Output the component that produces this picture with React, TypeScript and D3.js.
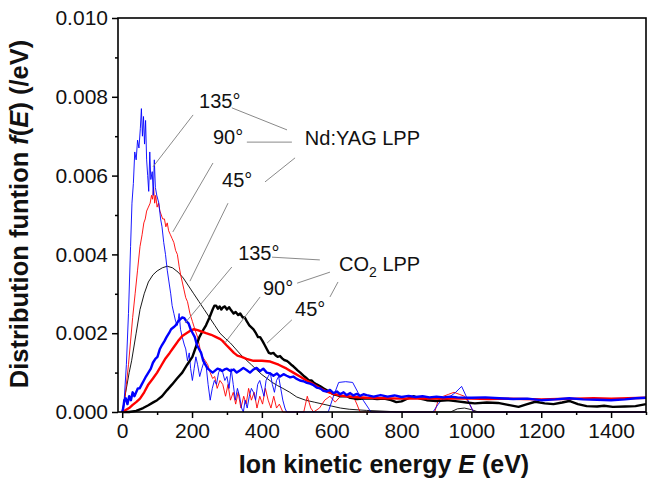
import React, { useEffect, useRef } from 'react';
import * as d3 from 'd3';

// axis ticks
const xTicks = [0, 200, 400, 600, 800, 1000, 1200, 1400];
const xMinor = [100, 300, 500, 700, 900, 1100, 1300, 1500];
const yTicks = [0, 0.002, 0.004, 0.006, 0.008, 0.01];
const yMinor = [0.001, 0.003, 0.005, 0.007, 0.009];

// Nd:YAG LPP (thin lines), [E (eV), f(E)]
const nd135 = [[0,0],[5,0.0002],[12,0.0012],[18,0.0025],[24,0.0042],[28,0.0053],[32,0.0058],[36,0.0066],[40,0.0064],[44,0.0069],[48,0.0067],[52,0.0072],[55,0.0077],[58,0.007],[61,0.0075],[64,0.0068],[67,0.0074],[70,0.0064],[73,0.006],[76,0.0056],[79,0.0066],[82,0.0059],[86,0.0061],[89,0.0055],[92,0.0064],[95,0.0057],[99,0.0055],[105,0.0053],[110,0.0049],[114,0.0047],[119,0.0043],[124,0.004],[129,0.0036],[134,0.0033],[139,0.003],[143,0.0027],[148,0.0025],[153,0.0023],[158,0.0022],[163,0.0025],[167,0.0021],[172,0.0019],[178,0.0017],[182,0.0016],[187,0.0013],[192,0.0015],[196,0.0011],[201,0.0008],[206,0.0011],[211,0.0014],[216,0.0012],[222,0.0009],[228,0.0011],[235,0.0013],[240,0.0012],[246,0.0007],[252,0.0003],[258,0.0006],[264,0.0008],[270,0.0007],[276,0.001],[282,0.0011],[288,0.001],[294,0.0008],[300,0.0009],[306,0.0006],[312,0.0011],[318,0.0007],[324,0.0003],[330,0.0006],[336,0.0004],[342,0.0001],[347,0],[352,0.0003],[358,0.0001],[364,0.0004],[370,0.0006],[376,0.0005],[382,0.0003],[388,0.0007],[394,0.0008],[400,0.0006],[406,0.0004],[412,0.0008],[418,0.0009],[424,0.001],[430,0.0007],[436,0.0005],[442,0.0008],[448,0.0009],[454,0.0006],[460,0.0003],[466,0.0001],[471,0],[590,0],[605,0.0004],[620,0.00075],[640,0.00077],[660,0.00075],[675,0.0005],[690,0.0003],[705,0.0001],[712,0],[890,0],[905,0.0002],[920,0.00035],[940,0.0004],[955,0.0005],[972,0.00065],[985,0.0004],[995,0.0002],[1006,0],[1500,0]];
const nd90 = [[0,0],[6,0.0002],[12,0.0007],[18,0.0012],[24,0.0018],[30,0.0024],[37,0.003],[44,0.0036],[51,0.0042],[57,0.0045],[62,0.0048],[66,0.0049],[70,0.0051],[75,0.0052],[80,0.0053],[84,0.0055],[87,0.0054],[90,0.0057],[93,0.0053],[96,0.0055],[100,0.0052],[104,0.0053],[108,0.0051],[112,0.005],[116,0.0049],[121,0.0049],[125,0.0047],[129,0.0048],[133,0.0046],[138,0.0045],[143,0.0044],[148,0.0043],[153,0.0041],[158,0.004],[163,0.0037],[167,0.0035],[172,0.0033],[177,0.0031],[182,0.0029],[187,0.0028],[194,0.0025],[201,0.0023],[208,0.0021],[216,0.0019],[223,0.0016],[230,0.0014],[238,0.0013],[245,0.0012],[252,0.001],[259,0.00085],[265,0.0009],[272,0.0006],[280,0.0008],[288,0.0007],[296,0.0004],[303,0.0007],[310,0.0003],[318,0.0005],[325,0.0002],[332,0.0005],[340,0.0001],[348,0.0004],[355,0.0002],[362,0.0006],[370,0.0003],[378,0.0005],[386,0.0001],[394,0.0004],[402,0.0002],[410,0.0006],[418,0.0003],[426,0.0001],[434,0.0004],[442,0.0001],[450,0.0002],[460,0],[520,0],[530,0.0004],[540,0.0001],[548,0],[565,0.0001],[580,0.0003],[595,0.0004],[610,0.00025],[625,0.0004],[645,0.0004],[662,0.0004],[672,0.0002],[681,0],[895,0],[905,0.0003],[920,0.0004],[935,0.00045],[950,0.0005],[965,0.00045],[980,0.0004],[995,0.0002],[1006,0],[1500,0]];
const nd45 = [[0,0],[10,0.0005],[20,0.001],[27,0.0013],[40,0.002],[51,0.0026],[63,0.003],[75,0.0033],[88,0.00348],[100,0.00358],[115,0.00366],[129,0.0037],[144,0.00366],[160,0.00355],[175,0.0034],[190,0.0032],[205,0.003],[220,0.0028],[235,0.0026],[250,0.0024],[265,0.0022],[280,0.002],[295,0.00187],[310,0.00175],[325,0.0016],[340,0.00145],[355,0.00132],[370,0.0012],[385,0.00107],[400,0.00095],[415,0.00085],[430,0.00075],[445,0.00067],[460,0.0006],[480,0.0005],[500,0.00038],[525,0.0003],[550,0.00025],[575,0.0002],[600,0.00015],[625,0.0001],[650,0.00007],[700,0.00004],[750,0.00002],[800,0],[940,0],[960,0.00008],[980,0.0001],[1000,0.00006],[1020,0],[1500,0]];

// CO2 LPP (thick lines)
const co135 = [[0,0],[3,0.0001],[6,0.0003],[10,0.00035],[15,0.0002],[20,0.0004],[25,0.0003],[30,0.0005],[35,0.0004],[40,0.0005],[45,0.0006],[50,0.0006],[56,0.0007],[62,0.0008],[68,0.0009],[75,0.001],[82,0.0011],[88,0.00125],[95,0.00135],[101,0.0014],[108,0.0016],[114,0.0017],[121,0.0018],[127,0.0019],[134,0.002],[140,0.0021],[147,0.00215],[153,0.0022],[160,0.0023],[166,0.00235],[172,0.0024],[178,0.00238],[184,0.0023],[190,0.00225],[196,0.0021],[202,0.002],[208,0.0019],[214,0.0017],[220,0.0016],[226,0.0015],[232,0.0013],[238,0.0012],[245,0.0011],[252,0.00105],[259,0.001],[266,0.00105],[273,0.0011],[279,0.00108],[286,0.00104],[293,0.00108],[300,0.0011],[310,0.00104],[319,0.00108],[328,0.001],[338,0.00106],[347,0.00112],[357,0.00106],[366,0.001],[376,0.00108],[385,0.00112],[395,0.00104],[404,0.0011],[414,0.001],[424,0.00098],[433,0.00092],[443,0.00098],[452,0.0009],[462,0.00096],[471,0.00092],[481,0.00088],[490,0.0009],[500,0.00084],[509,0.0008],[519,0.00078],[529,0.00074],[538,0.00072],[548,0.00068],[557,0.00062],[567,0.0006],[576,0.00054],[586,0.00052],[595,0.00056],[605,0.00048],[615,0.00052],[624,0.00045],[634,0.0005],[643,0.00043],[653,0.00048],[662,0.00042],[672,0.00046],[681,0.00041],[691,0.00045],[700,0.00043],[720,0.00039],[740,0.00043],[760,0.00039],[780,0.00042],[800,0.00038],[820,0.00041],[840,0.00038],[860,0.0004],[880,0.00037],[900,0.00039],[920,0.00037],[940,0.00039],[960,0.00037],[1000,0.00036],[1040,0.00037],[1080,0.00035],[1120,0.00033],[1160,0.00034],[1200,0.0003],[1240,0.00032],[1280,0.00035],[1320,0.00032],[1360,0.00031],[1400,0.0003],[1440,0.00032],[1470,0.00035],[1500,0.00036]];
const co90 = [[0,0],[10,0.00005],[20,0.0001],[30,0.00018],[40,0.00025],[51,0.00034],[63,0.0005],[75,0.0007],[88,0.00085],[100,0.001],[112,0.00118],[124,0.00136],[136,0.0015],[148,0.00165],[160,0.0018],[172,0.00193],[184,0.002],[196,0.00207],[206,0.0021],[216,0.00208],[228,0.00204],[240,0.002],[255,0.00196],[269,0.0019],[281,0.00185],[288,0.0018],[298,0.0017],[309,0.0016],[320,0.0015],[330,0.00143],[342,0.0014],[356,0.00135],[376,0.0013],[400,0.0013],[424,0.00128],[448,0.0012],[471,0.0011],[490,0.001],[509,0.0009],[528,0.0008],[548,0.0007],[567,0.0006],[586,0.00052],[605,0.00046],[624,0.00042],[643,0.0004],[662,0.00038],[700,0.00036],[750,0.00035],[800,0.00034],[850,0.00035],[900,0.00034],[950,0.00035],[1000,0.00034],[1050,0.00033],[1100,0.00034],[1150,0.00033],[1200,0.00032],[1250,0.00033],[1300,0.00034],[1350,0.00035],[1400,0.00034],[1450,0.00035],[1500,0.00036]];
const co45 = [[0,0],[20,0],[40,0.00003],[60,0.0001],[75,0.00017],[90,0.00025],[100,0.0003],[114,0.0004],[128,0.00055],[143,0.0007],[157,0.00085],[172,0.001],[186,0.0012],[201,0.0014],[211,0.00165],[221,0.0019],[230,0.00205],[240,0.0022],[250,0.0024],[259,0.0026],[264,0.0027],[269,0.0027],[274,0.00262],[279,0.00268],[284,0.0026],[288,0.00265],[294,0.00268],[300,0.0026],[306,0.00266],[312,0.00258],[319,0.0025],[325,0.00254],[332,0.00246],[338,0.0025],[345,0.0024],[351,0.0024],[357,0.0023],[364,0.0022],[370,0.00215],[376,0.0021],[383,0.002],[389,0.0019],[395,0.0019],[402,0.0018],[408,0.0017],[414,0.0016],[420,0.0015],[426,0.00148],[433,0.0015],[439,0.00144],[445,0.0014],[452,0.00142],[458,0.00136],[464,0.00132],[471,0.0013],[477,0.00126],[484,0.0012],[490,0.00116],[497,0.0011],[503,0.00105],[510,0.001],[516,0.00095],[522,0.0009],[529,0.00085],[535,0.0008],[542,0.0008],[548,0.00075],[557,0.0007],[566,0.00066],[576,0.0006],[586,0.00055],[595,0.0005],[605,0.00045],[615,0.00043],[624,0.0004],[634,0.0004],[643,0.0004],[653,0.00036],[662,0.00035],[672,0.00033],[690,0.00034],[710,0.00035],[730,0.00033],[750,0.00034],[770,0.0003],[785,0.00025],[800,0.00027],[815,0.00033],[834,0.0004],[853,0.00034],[872,0.0003],[900,0.00028],[930,0.0003],[960,0.00027],[986,0.00024],[1010,0.00022],[1044,0.00024],[1076,0.00023],[1105,0.00018],[1135,0.00013],[1160,0.0002],[1183,0.00026],[1210,0.00022],[1235,0.0002],[1260,0.00024],[1280,0.00028],[1305,0.0002],[1330,0.00015],[1360,0.00014],[1380,0.00016],[1405,0.00013],[1440,0.00014],[1470,0.00015],[1500,0.0002]];

// annotation labels (data coords) and leader lines
const angleLabels = [
  { text: '135°', e: 220, f: 0.00772 },
  { text: '90°', e: 260, f: 0.0068 },
  { text: '45°', e: 286, f: 0.00571 },
  { text: '135°', e: 332, f: 0.00386 },
  { text: '90°', e: 403, f: 0.00297 },
  { text: '45°', e: 495, f: 0.00244 },
];
const leaders = [
  [[314, 0.00772], [472, 0.00716]],
  [[357, 0.00685], [486, 0.00685]],
  [[409, 0.00584], [495, 0.00645]],
  [[203, 0.00754], [88, 0.00622]],
  [[260, 0.00632], [145, 0.00457]],
  [[303, 0.0053], [194, 0.00332]],
  [[429, 0.00393], [566, 0.00386]],
  [[501, 0.00327], [595, 0.00355]],
  [[595, 0.00292], [618, 0.0033]],
  [[314, 0.00368], [180, 0.00226]],
  [[395, 0.00292], [294, 0.00175]],
  [[486, 0.00234], [415, 0.00175]],
];

const FONT = 'Liberation Sans, Arial, Helvetica, sans-serif';

const App = () => {
  const ref = useRef(null);

  useEffect(() => {
    const width = 650;
    const height = 483;
    const left = 118, right = 646, top = 18, bottom = 412;

    const svg = d3.select(ref.current)
      .append('svg')
      .attr('width', width)
      .attr('height', height)
      .style('position', 'absolute')
      .style('left', 0)
      .style('top', 0)
      .style('background', '#fff')
      .style('font-family', FONT);

    const x = d3.scaleLinear().domain([-12, 1500]).range([left, right]);
    const y = d3.scaleLinear().domain([0, 0.01]).range([bottom, top]);

    const line = d3.line().x((d) => x(d[0])).y((d) => y(d[1]));

    const series = [
      { data: nd45, color: '#000', w: 0.9 },
      { data: nd90, color: '#ff0000', w: 0.9 },
      { data: nd135, color: '#0000ff', w: 0.9 },
      { data: co45, color: '#000', w: 2.4 },
      { data: co90, color: '#ff0000', w: 2.4 },
      { data: co135, color: '#0000ff', w: 2.4 },
    ];

    svg.append('g')
      .selectAll('path')
      .data(series)
      .enter()
      .append('path')
      .attr('d', (d) => line(d.data))
      .attr('fill', 'none')
      .attr('stroke', (d) => d.color)
      .attr('stroke-width', (d) => d.w)
      .attr('stroke-linejoin', 'round');

    // frame
    svg.append('rect')
      .attr('x', left).attr('y', top)
      .attr('width', right - left).attr('height', bottom - top)
      .attr('fill', 'none').attr('stroke', '#000').attr('stroke-width', 1.6);

    // axes
    const gx = svg.append('g')
      .attr('transform', `translate(0,${bottom})`)
      .call(d3.axisBottom(x).tickValues(xTicks).tickSize(6).tickPadding(5).tickFormat(d3.format('d')));
    gx.select('.domain').remove();
    gx.selectAll('line').attr('stroke-width', 1.5);
    gx.selectAll('text').attr('font-size', 21).attr('font-family', FONT).attr('fill', '#111');
    svg.append('g')
      .attr('transform', `translate(0,${bottom})`)
      .call(d3.axisBottom(x).tickValues(xMinor).tickSize(3).tickFormat(''))
      .call((g) => g.select('.domain').remove())
      .selectAll('line').attr('stroke-width', 1.5);

    const gy = svg.append('g')
      .attr('transform', `translate(${left},0)`)
      .call(d3.axisLeft(y).tickValues(yTicks).tickSize(6).tickPadding(4).tickFormat(d3.format('.3f')));
    gy.select('.domain').remove();
    gy.selectAll('line').attr('stroke-width', 1.5);
    gy.selectAll('text').attr('font-size', 21).attr('font-family', FONT).attr('fill', '#111');
    svg.append('g')
      .attr('transform', `translate(${left},0)`)
      .call(d3.axisLeft(y).tickValues(yMinor).tickSize(3).tickFormat(''))
      .call((g) => g.select('.domain').remove())
      .selectAll('line').attr('stroke-width', 1.5);

    // axis titles
    const xt = svg.append('text')
      .attr('x', (left + right) / 2 + 2)
      .attr('y', 473)
      .attr('text-anchor', 'middle')
      .attr('font-size', 25)
      .attr('font-weight', 'bold')
      .attr('fill', '#111');
    xt.append('tspan').text('Ion kinetic energy ');
    xt.append('tspan').attr('font-style', 'italic').text('E');
    xt.append('tspan').text(' (eV)');

    const yt = svg.append('text')
      .attr('transform', 'translate(28,214) rotate(-90)')
      .attr('text-anchor', 'middle')
      .attr('font-size', 25.5)
      .attr('font-weight', 'bold')
      .attr('fill', '#111');
    yt.append('tspan').text('Distribution funtion ');
    yt.append('tspan').attr('font-style', 'italic').text('f');
    yt.append('tspan').text('(');
    yt.append('tspan').attr('font-style', 'italic').text('E');
    yt.append('tspan').text(') (/eV)');

    // annotations
    svg.append('g')
      .selectAll('line')
      .data(leaders)
      .enter()
      .append('line')
      .attr('x1', (d) => x(d[0][0])).attr('y1', (d) => y(d[0][1]))
      .attr('x2', (d) => x(d[1][0])).attr('y2', (d) => y(d[1][1]))
      .attr('stroke', '#8a8a8a')
      .attr('stroke-width', 1);

    svg.append('g')
      .selectAll('text')
      .data(angleLabels)
      .enter()
      .append('text')
      .attr('x', (d) => x(d.e))
      .attr('y', (d) => y(d.f))
      .attr('font-size', 20)
      .attr('fill', '#111')
      .text((d) => d.text);

    svg.append('text')
      .attr('x', x(523)).attr('y', y(0.00678))
      .attr('font-size', 20).attr('fill', '#111')
      .text('Nd:YAG LPP');

    const co = svg.append('text')
      .attr('x', x(621)).attr('y', y(0.00358))
      .attr('font-size', 20).attr('fill', '#111');
    co.append('tspan').text('CO');
    co.append('tspan').attr('font-size', 14).attr('dy', 6).text('2');
    co.append('tspan').attr('dy', -6).text(' LPP');

    return () => {
      d3.select(ref.current).select('svg').remove();
    };
  }, []);

  return <div ref={ref} />;
};

export default App;
